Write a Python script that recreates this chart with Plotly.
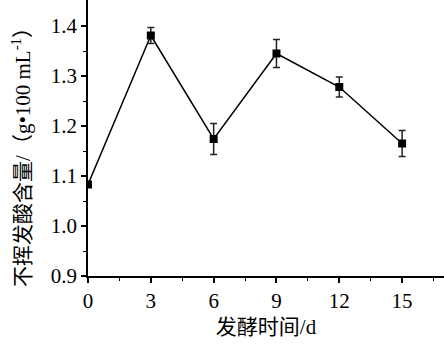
import plotly.graph_objects as go

days = [0, 3, 6, 9, 12, 15]
acid = [1.083, 1.381, 1.174, 1.345, 1.278, 1.165]
err = [0.005, 0.016, 0.031, 0.028, 0.020, 0.026]
x_ticks = [0, 3, 6, 9, 12, 15]
y_ticks = [0.9, 1.0, 1.1, 1.2, 1.3, 1.4]

font_fam = "Liberation Serif, Times New Roman, Noto Sans CJK SC, serif"

fig = go.Figure(go.Scatter(
    x=days, y=acid, mode="lines+markers",
    line=dict(color="black", width=1.5),
    marker=dict(symbol="square", size=8, color="black"),
    error_y=dict(type="data", array=err, color="#222", thickness=1.5, width=3.5),
))

fig.update_layout(
    width=444, height=349,
    margin=dict(l=88, r=0, t=0, b=73),
    plot_bgcolor="white", paper_bgcolor="white",
    showlegend=False,
    font=dict(family=font_fam, size=21, color="black"),
)
fig.update_xaxes(
    range=[0, 17], tickvals=x_ticks, ticktext=[str(v) for v in x_ticks],
    showline=True, linecolor="black", linewidth=1.5, showgrid=False, zeroline=False,
    ticks="outside", ticklen=5, tickwidth=1.5, tickcolor="black",
    minor=dict(tickvals=[1.5, 4.5, 7.5, 10.5, 13.5, 16.5], ticks="outside", ticklen=3, tickwidth=1.2, tickcolor="black"),
    tickfont=dict(size=21),
    title=dict(text="发酵时间/d", font=dict(size=21), standoff=7),
)
fig.update_yaxes(
    range=[0.9, 1.452], tickvals=y_ticks, ticktext=[f"{v:.1f}" for v in y_ticks],
    showline=True, linecolor="black", linewidth=1.5, showgrid=False, zeroline=False,
    ticks="outside", ticklen=5, tickwidth=1.5, tickcolor="black",
    minor=dict(tickvals=[0.95, 1.05, 1.15, 1.25, 1.35], ticks="outside", ticklen=3, tickwidth=1.2, tickcolor="black"),
    tickfont=dict(size=21),
)
fig.add_annotation(
    text="不挥发酸含量/（g•100 mL<sup>-1</sup>）",
    xref="paper", yref="paper", x=-0.185, y=0.45,
    xanchor="center", yanchor="middle", textangle=-90, showarrow=False,
    font=dict(size=21),
)
fig.write_html("out.html")
